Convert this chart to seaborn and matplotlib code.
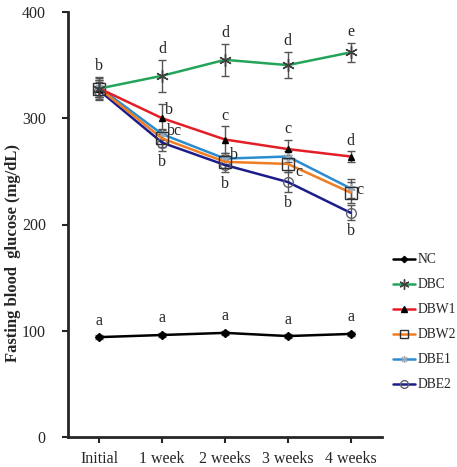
import matplotlib
matplotlib.use("Agg")
import matplotlib.pyplot as plt
import seaborn as sns
import pandas as pd
from matplotlib.lines import Line2D

sns.set_style("ticks")
plt.rcParams['font.family'] = ['Liberation Serif', 'DejaVu Serif']

times = ["Initial", "1 week", "2 weeks", "3 weeks", "4 weeks"]
groups = ["NC", "DBC", "DBW1", "DBW2", "DBE1", "DBE2"]

nc = [94, 96, 98, 95, 97]
dbc = [328, 340, 355, 350, 362]
dbw1 = [328, 300, 280, 271, 264]
dbw2 = [328, 281, 259, 257, 230]
dbe1 = [329, 285, 262, 264, 234]
dbe2 = [326, 277, 256, 240, 211]

nc_err = [2, 2, 2, 2, 2]
dbc_err = [11, 15, 15, 12, 9]
dbw1_err = [8, 13, 13, 9, 5]
dbw2_err = [8, 8, 6, 8, 10]
dbe1_err = [9, 5, 5, 5, 9]
dbe2_err = [8, 8, 7, 9, 7]

# significance letters: (group, time index, letter)
letters = [
    ("DBC", 0, "b"),
    ("NC", 0, "a"), ("NC", 1, "a"), ("NC", 2, "a"), ("NC", 3, "a"), ("NC", 4, "a"),
    ("DBC", 1, "d"), ("DBC", 2, "d"), ("DBC", 3, "d"), ("DBC", 4, "e"),
    ("DBW1", 1, "b"), ("DBW1", 2, "c"), ("DBW1", 3, "c"), ("DBW1", 4, "d"),
    ("DBE1", 1, "bc"), ("DBE1", 2, "b"),
    ("DBW2", 3, "c"), ("DBW2", 4, "c"),
    ("DBE2", 1, "b"), ("DBE2", 2, "b"), ("DBE2", 3, "b"), ("DBE2", 4, "b"),
]

values = {"NC": nc, "DBC": dbc, "DBW1": dbw1, "DBW2": dbw2, "DBE1": dbe1, "DBE2": dbe2}
errors = {"NC": nc_err, "DBC": dbc_err, "DBW1": dbw1_err, "DBW2": dbw2_err, "DBE1": dbe1_err, "DBE2": dbe2_err}

colors = {"NC": "#000000", "DBC": "#22a55a", "DBW1": "#e41e26", "DBW2": "#f07d22",
          "DBE1": "#2b8ccf", "DBE2": "#1c1c8a"}
markers = {"NC": "D", "DBC": (6, 2, 0), "DBW1": "^", "DBW2": "s", "DBE1": (6, 2, 0), "DBE2": "o"}
mfc = {"NC": "black", "DBC": "none", "DBW1": "black", "DBW2": "none", "DBE1": "none", "DBE2": "none"}
mec = {"NC": "black", "DBC": "#404040", "DBW1": "black", "DBW2": "#303030", "DBE1": "#9aa8b8", "DBE2": "#606070"}
msize = {"NC": 4, "DBC": 9, "DBW1": 5, "DBW2": 8, "DBE1": 6, "DBE2": 7}

rows = []
for g in groups:
    for i, t in enumerate(times):
        rows.append({"group": g, "x": i, "time": t, "value": values[g][i], "err": errors[g][i]})
df = pd.DataFrame(rows)

fig = plt.figure(figsize=(4.57, 4.67), dpi=100)
ax = fig.add_axes([68 / 457, 1 - 437 / 467, (382 - 68) / 457, (437 - 12) / 467])

for g in groups:
    d = df[df.group == g]
    ax.errorbar(d.x, d.value, yerr=d.err, fmt="none", ecolor="#555555", elinewidth=1,
                capsize=3, capthick=1, zorder=2)
for g in groups[::-1]:
    d = df[df.group == g]
    sns.lineplot(data=d, x="x", y="value", ax=ax, color=colors[g], lw=1.8,
                 marker=markers[g], markersize=msize[g], markerfacecolor=mfc[g],
                 markeredgecolor=mec[g], markeredgewidth=1, zorder=3, legend=False)

fs = 11.5
for g, i, lab in letters:
    v = values[g][i]
    e = errors[g][i]
    if g == "NC":
        ax.text(i, v + e + 6, lab, ha="center", va="bottom", fontsize=fs)
    elif g == "DBC":
        ax.text(i, v + e + 3, lab, ha="center", va="bottom", fontsize=fs)
    elif g == "DBW1" and i == 1:
        ax.text(i + 0.05, v + e - 5, lab, ha="left", va="center", fontsize=fs)
    elif g == "DBW1":
        ax.text(i, v + e + 2, lab, ha="center", va="bottom", fontsize=fs)
    elif g == "DBE1":
        ax.text(i + 0.08, v + 3, lab, ha="left", va="center", fontsize=fs)
    elif g == "DBW2" and i == 3:
        ax.text(i + 0.17, v - 8, lab, ha="center", va="center", fontsize=fs)
    elif g == "DBW2":
        ax.text(i + 0.09, v + 2, lab, ha="left", va="center", fontsize=fs)
    elif g == "DBE2":
        ax.text(i, v - e - 3, lab, ha="center", va="top", fontsize=fs)

ax.set_xlim(-0.5, 4.5)
ax.set_ylim(0, 400)
ax.set_yticks([0, 100, 200, 300, 400])
ax.set_xticks(range(len(times)))
ax.set_xticklabels(times)
ax.set_xlabel("")
ax.set_ylabel("Fasting blood  glucose (mg/dL)", fontsize=12, fontweight="bold")
ax.yaxis.set_label_coords(-0.15, 0.433)
ax.tick_params(axis="both", labelsize=11.5, width=1.5, length=4, direction="out")
ax.tick_params(axis="y", pad=12)
ax.tick_params(axis="x", pad=6)
sns.despine(ax=ax)
for s in ["left", "bottom"]:
    ax.spines[s].set_linewidth(2)

handles = [Line2D([0], [0], color=colors[g], lw=1.8, marker=markers[g],
                  markersize=msize[g] * 0.8, markerfacecolor=mfc[g], markeredgecolor=mec[g])
           for g in groups]
fig.legend(handles, groups, loc="upper left", bbox_to_anchor=(388 / 457, 1 - 248 / 467),
           frameon=False, fontsize=9.8, handlelength=1.6, handletextpad=0.15,
           labelspacing=0.88, borderaxespad=0)

fig.savefig("out.png", dpi=100)
